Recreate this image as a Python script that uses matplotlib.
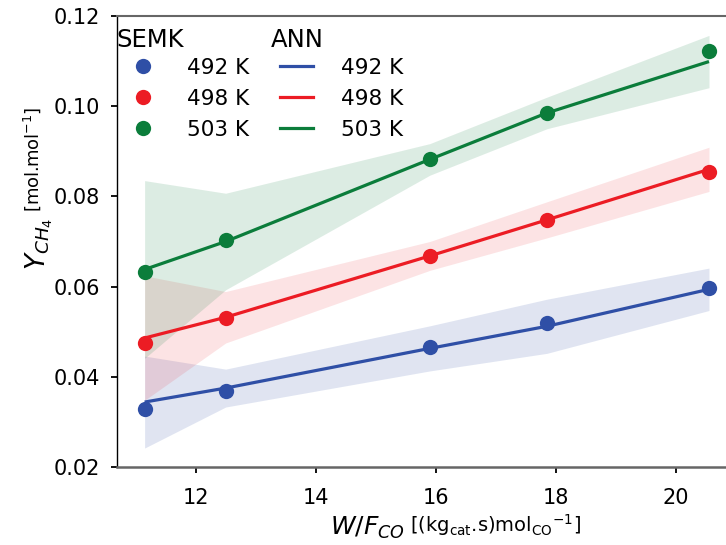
import matplotlib
matplotlib.use("Agg")
import matplotlib.pyplot as plt
from matplotlib.lines import Line2D

# Space time W/F_CO [(kg_cat.s) mol_CO^-1]
wf = [11.15, 12.5, 15.9, 17.85, 20.55]

temps = ["492 K", "498 K", "503 K"]
colors = ["#2f4fa6", "#ec1c24", "#0b7d3b"]
band_alpha = [0.15, 0.12, 0.14]

# SEMK model results (markers)
semk_492 = [0.0329, 0.0368, 0.0465, 0.0520, 0.0597]
semk_498 = [0.0475, 0.0530, 0.0668, 0.0748, 0.0853]
semk_503 = [0.0632, 0.0703, 0.0883, 0.0985, 0.1123]

# ANN predictions (lines)
ann_492 = [0.0344, 0.0375, 0.0463, 0.0512, 0.0594]
ann_498 = [0.0486, 0.0532, 0.0668, 0.0748, 0.0860]
ann_503 = [0.0638, 0.0700, 0.0882, 0.0985, 0.1099]

# ANN uncertainty half-widths (shaded bands)
unc_492 = [0.0102, 0.0042, 0.0050, 0.0060, 0.0047]
unc_498 = [0.0138, 0.0057, 0.0032, 0.0040, 0.0049]
unc_503 = [0.0197, 0.0107, 0.0035, 0.0035, 0.0058]

yticks = [0.02, 0.04, 0.06, 0.08, 0.10, 0.12]
xticks = [12, 14, 16, 18, 20]

semk = [semk_492, semk_498, semk_503]
ann = [ann_492, ann_498, ann_503]
unc = [unc_492, unc_498, unc_503]

W, H = 726, 545
fig = plt.figure(figsize=(W / 100, H / 100), dpi=100)
ax = fig.add_axes([117 / W, 1 - 467 / H, (736 - 117) / W, (467 - 16) / H])

for s, a, u, c, al in zip(semk, ann, unc, colors, band_alpha):
    lo = [v - d for v, d in zip(a, u)]
    hi = [v + d for v, d in zip(a, u)]
    ax.fill_between(wf, lo, hi, color=c, alpha=al, linewidth=0, zorder=1)
    ax.plot(wf, a, color=c, lw=2.3, zorder=2, solid_capstyle="butt")
    ax.plot(wf, s, "o", color=c, ms=11, zorder=3, markeredgewidth=0)

ax.set_xlim(10.69, 21.0)
ax.set_ylim(0.02, 0.12)
ax.set_xticks(xticks)
ax.set_yticks(yticks)
ax.set_yticklabels([f"{v:.2f}" for v in yticks])
ax.tick_params(axis="both", labelsize=15, direction="out", length=4, width=1.3,
               colors="black")
ax.tick_params(axis="x", pad=11)
ax.tick_params(axis="y", pad=8)
ax.spines["right"].set_visible(False)
ax.spines["left"].set_color("black")
ax.spines["left"].set_linewidth(1.0)
ax.spines["bottom"].set_color("#666666")
ax.spines["bottom"].set_linewidth(1.8)
ax.spines["top"].set_color("#666666")
ax.spines["top"].set_linewidth(1.5)

# Legend: SEMK markers in the first column, ANN lines in the second
handles = [Line2D([], [], ls="none", marker="o", ms=11, color=c, markeredgewidth=0)
           for c in colors]
handles += [Line2D([], [], lw=2.3, color=c) for c in colors]
labels = temps + temps
ax.legend(handles, labels, ncol=2, frameon=False, fontsize=15.5,
          loc="upper left", bbox_to_anchor=(126 / W, 1 - 58 / H),
          bbox_transform=fig.transFigure, borderpad=0, borderaxespad=0,
          handlelength=1.55, handletextpad=1.3, columnspacing=1.4,
          labelspacing=0.5)
fig.text(116 / W, 1 - 47 / H, "SEMK", fontsize=17.5, va="baseline", ha="left")
fig.text(271 / W, 1 - 47 / H, "ANN", fontsize=17.5, va="baseline", ha="left")

# Axis labels: large symbol followed by smaller unit text
fig.canvas.draw()
r = fig.canvas.get_renderer()

ty1 = fig.text(45 / W, 1 - 270 / H, r"$Y_{CH_4}$", fontsize=19,
               rotation=90, rotation_mode="anchor", ha="left", va="baseline")
bb = ty1.get_window_extent(r)
fig.text(39 / W, (bb.y1 + 6) / H, r"[mol.mol$^{-1}$]", fontsize=13,
         rotation=90, rotation_mode="anchor", ha="left", va="baseline")

tx1 = fig.text(330 / W, 1 - 535 / H, r"$W/F_{CO}$", fontsize=18,
               ha="left", va="baseline")
bb = tx1.get_window_extent(r)
fig.text((bb.x1 + 5) / W, 1 - 532 / H,
         r"[(kg$_{\mathrm{cat}}$.s)mol$_{\mathrm{CO}}$$^{-1}$]", fontsize=14,
         ha="left", va="baseline")

fig.savefig("out.png", dpi=100)
